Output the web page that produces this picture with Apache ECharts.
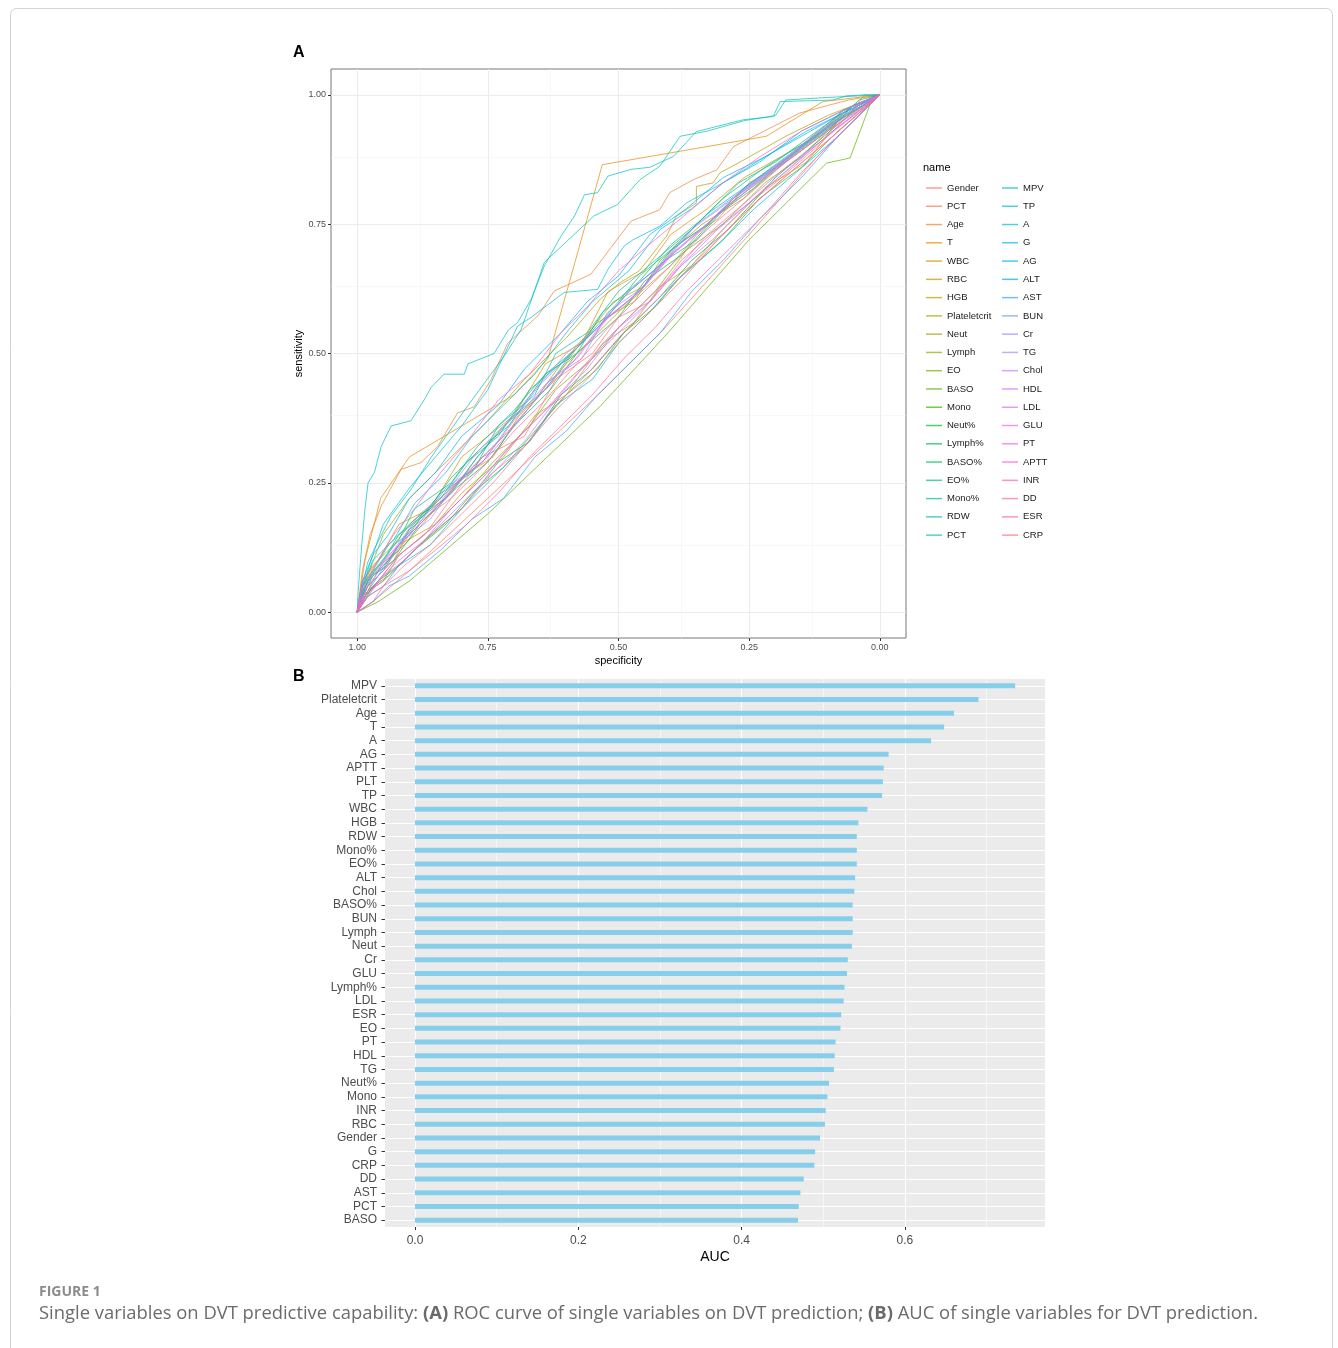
<!DOCTYPE html>
<html>
<head>
<meta charset="utf-8">
<script src="https://cdn.jsdelivr.net/npm/echarts@6/dist/echarts.min.js"></script>
<style>
  html, body { margin: 0; padding: 0; background: #ffffff; }
  #main { width: 1338px; height: 1348px; }
</style>
</head>
<body>
<div id="main"></div>
<script>
// ---------- panel A : ROC curves, [specificity, sensitivity] ----------
const rocGender = [[1,0],[0.995,0.03],[0.97,0.06],[0.93,0.1],[0.9,0.16],[0.82,0.22],[0.76,0.3],[0.68,0.34],[0.62,0.45],[0.55,0.5],[0.5,0.57],[0.44,0.6],[0.38,0.68],[0.29,0.76],[0.2,0.83],[0.12,0.9],[0.06,0.96],[0.03,1],[0,1]];
const rocPCT = [[1,0],[0.97,0.02],[0.9,0.08],[0.75,0.22],[0.535,0.424],[0.415,0.545],[0.25,0.73],[0.12,0.88],[0.05,0.95],[0,1]];
const rocAge = [[1,0],[0.99,0.08],[0.975,0.15],[0.954,0.205],[0.916,0.276],[0.878,0.289],[0.846,0.32],[0.808,0.385],[0.776,0.397],[0.744,0.449],[0.712,0.52],[0.654,0.573],[0.623,0.621],[0.553,0.653],[0.476,0.756],[0.421,0.778],[0.402,0.811],[0.357,0.836],[0.312,0.855],[0.28,0.9],[0.153,0.965],[0.06,0.99],[0,1]];
const rocT = [[1,0],[0.985,0.1],[0.955,0.22],[0.9,0.3],[0.8,0.36],[0.7,0.42],[0.635,0.49],[0.531,0.865],[0.217,0.92],[0.109,0.987],[0,1]];
const rocWBC = [[1,0],[0.99,0.05],[0.96,0.1],[0.92,0.17],[0.86,0.2],[0.8,0.3],[0.7,0.38],[0.64,0.48],[0.57,0.52],[0.52,0.62],[0.45,0.66],[0.4,0.73],[0.33,0.78],[0.26,0.84],[0.19,0.88],[0.12,0.92],[0.07,0.97],[0,1]];
const rocRBC = [[1,0],[0.98,0.05],[0.95,0.08],[0.92,0.13],[0.85,0.17],[0.8,0.23],[0.72,0.3],[0.66,0.38],[0.6,0.42],[0.53,0.52],[0.47,0.56],[0.42,0.63],[0.36,0.67],[0.3,0.74],[0.22,0.82],[0.14,0.87],[0.08,0.95],[0,1]];
const rocHGB = [[1,0],[0.99,0.04],[0.97,0.08],[0.92,0.12],[0.88,0.18],[0.8,0.26],[0.74,0.3],[0.69,0.38],[0.63,0.44],[0.58,0.51],[0.51,0.6],[0.45,0.63],[0.39,0.71],[0.31,0.76],[0.25,0.83],[0.18,0.87],[0.1,0.93],[0.04,0.98],[0,1]];
const rocPlateletcrit = [[1,0],[0.98,0.07],[0.95,0.15],[0.9,0.22],[0.82,0.3],[0.75,0.37],[0.68,0.45],[0.6,0.53],[0.535,0.605],[0.497,0.637],[0.46,0.66],[0.408,0.727],[0.389,0.766],[0.351,0.791],[0.351,0.823],[0.319,0.83],[0.306,0.849],[0.25,0.88],[0.18,0.92],[0.1,0.96],[0,1]];
const rocNeut = [[1,0],[0.98,0.04],[0.96,0.08],[0.9,0.14],[0.85,0.2],[0.79,0.27],[0.71,0.35],[0.65,0.42],[0.6,0.48],[0.55,0.53],[0.49,0.59],[0.4,0.67],[0.35,0.73],[0.3,0.78],[0.22,0.84],[0.15,0.9],[0.08,0.95],[0,1]];
const rocLymph = [[1,0],[0.99,0.06],[0.97,0.09],[0.93,0.13],[0.89,0.18],[0.83,0.22],[0.77,0.3],[0.72,0.36],[0.66,0.41],[0.61,0.48],[0.54,0.56],[0.47,0.6],[0.42,0.68],[0.34,0.75],[0.26,0.8],[0.2,0.86],[0.1,0.94],[0.05,0.98],[0,1]];
const rocEO = [[1,0],[0.98,0.04],[0.95,0.06],[0.92,0.11],[0.86,0.16],[0.8,0.22],[0.74,0.29],[0.67,0.36],[0.62,0.43],[0.55,0.49],[0.5,0.55],[0.43,0.62],[0.37,0.7],[0.3,0.75],[0.22,0.83],[0.15,0.88],[0.08,0.95],[0,1]];
const rocBASO = [[1,0],[0.96,0.02],[0.9,0.06],[0.75,0.19],[0.535,0.398],[0.401,0.545],[0.25,0.72],[0.102,0.868],[0.057,0.878],[0.013,0.997],[0,1]];
const rocMono = [[1,0],[0.97,0.05],[0.94,0.07],[0.89,0.12],[0.83,0.17],[0.78,0.23],[0.72,0.28],[0.66,0.35],[0.6,0.42],[0.54,0.47],[0.49,0.54],[0.43,0.59],[0.38,0.65],[0.3,0.72],[0.23,0.8],[0.15,0.86],[0.08,0.93],[0,1]];
const rocNeutPct = [[1,0],[0.985,0.03],[0.96,0.06],[0.92,0.09],[0.88,0.13],[0.8,0.2],[0.73,0.29],[0.67,0.33],[0.61,0.42],[0.55,0.47],[0.49,0.54],[0.42,0.61],[0.36,0.68],[0.29,0.74],[0.2,0.84],[0.13,0.9],[0.06,0.96],[0,1]];
const rocLymphPct = [[1,0],[0.99,0.04],[0.97,0.07],[0.93,0.1],[0.88,0.17],[0.81,0.24],[0.75,0.29],[0.7,0.36],[0.63,0.43],[0.58,0.5],[0.5,0.57],[0.45,0.64],[0.38,0.69],[0.31,0.77],[0.24,0.82],[0.17,0.88],[0.09,0.94],[0.04,0.99],[0,1]];
const rocBASOPct = [[1,0],[0.98,0.06],[0.95,0.1],[0.92,0.15],[0.87,0.19],[0.82,0.26],[0.76,0.32],[0.71,0.36],[0.64,0.46],[0.58,0.5],[0.53,0.58],[0.46,0.64],[0.4,0.71],[0.34,0.76],[0.27,0.83],[0.2,0.87],[0.12,0.93],[0.05,0.98],[0,1]];
const rocEOPct = [[1,0],[0.99,0.05],[0.97,0.08],[0.94,0.13],[0.9,0.17],[0.84,0.22],[0.79,0.29],[0.73,0.34],[0.67,0.43],[0.6,0.49],[0.54,0.55],[0.48,0.62],[0.41,0.68],[0.35,0.72],[0.28,0.8],[0.2,0.86],[0.12,0.92],[0.05,0.98],[0,1]];
const rocMonoPct = [[1,0],[0.98,0.06],[0.96,0.09],[0.92,0.14],[0.89,0.2],[0.82,0.25],[0.77,0.32],[0.7,0.39],[0.64,0.46],[0.58,0.51],[0.5,0.6],[0.46,0.65],[0.4,0.7],[0.33,0.77],[0.26,0.82],[0.18,0.88],[0.1,0.94],[0.04,0.98],[0,1]];
const rocRDW = [[1,0],[0.99,0.03],[0.97,0.07],[0.94,0.1],[0.9,0.16],[0.84,0.23],[0.78,0.27],[0.73,0.36],[0.66,0.42],[0.62,0.5],[0.56,0.54],[0.5,0.62],[0.43,0.68],[0.36,0.74],[0.3,0.8],[0.22,0.86],[0.14,0.91],[0.07,0.97],[0,1]];
const rocPCT2 = [[1,0],[0.98,0.096],[0.935,0.186],[0.897,0.237],[0.858,0.3],[0.794,0.391],[0.718,0.496],[0.686,0.547],[0.642,0.676],[0.547,0.766],[0.502,0.788],[0.476,0.817],[0.459,0.836],[0.421,0.862],[0.382,0.92],[0.33,0.93],[0.26,0.95],[0.2,0.96],[0.18,0.99],[0.1,0.995],[0,1]];
const rocMPV = [[1,0],[0.998,0.04],[0.992,0.12],[0.985,0.2],[0.979,0.25],[0.967,0.27],[0.954,0.32],[0.935,0.36],[0.897,0.37],[0.872,0.41],[0.858,0.435],[0.834,0.46],[0.795,0.46],[0.788,0.48],[0.738,0.5],[0.711,0.545],[0.693,0.56],[0.667,0.605],[0.642,0.669],[0.61,0.727],[0.584,0.766],[0.565,0.807],[0.54,0.811],[0.52,0.843],[0.476,0.856],[0.44,0.86],[0.395,0.881],[0.351,0.929],[0.261,0.952],[0.204,0.958],[0.191,0.987],[0.09,0.99],[0.064,0.998],[0.03,1],[0,1]];
const rocTP = [[1,0],[0.99,0.05],[0.97,0.1],[0.93,0.14],[0.89,0.21],[0.83,0.27],[0.78,0.34],[0.72,0.4],[0.66,0.46],[0.6,0.54],[0.55,0.6],[0.48,0.66],[0.42,0.74],[0.36,0.78],[0.3,0.83],[0.22,0.88],[0.15,0.92],[0.08,0.96],[0,1]];
const rocA = [[1,0],[0.98,0.08],[0.95,0.17],[0.9,0.24],[0.85,0.3],[0.8,0.36],[0.75,0.43],[0.693,0.553],[0.667,0.57],[0.604,0.618],[0.54,0.624],[0.52,0.663],[0.489,0.708],[0.472,0.72],[0.421,0.746],[0.37,0.791],[0.3,0.83],[0.23,0.87],[0.15,0.93],[0.07,0.97],[0,1]];
const rocG = [[1,0],[0.98,0.03],[0.95,0.05],[0.92,0.09],[0.86,0.13],[0.8,0.2],[0.74,0.26],[0.67,0.33],[0.62,0.4],[0.55,0.45],[0.5,0.52],[0.44,0.58],[0.39,0.64],[0.31,0.71],[0.24,0.78],[0.16,0.85],[0.08,0.92],[0,1]];
const rocAG = [[1,0],[0.99,0.06],[0.97,0.11],[0.94,0.15],[0.9,0.22],[0.85,0.27],[0.8,0.34],[0.73,0.4],[0.68,0.47],[0.61,0.54],[0.56,0.6],[0.5,0.65],[0.44,0.73],[0.37,0.78],[0.3,0.84],[0.22,0.88],[0.14,0.93],[0.06,0.97],[0,1]];
const rocALT = [[1,0],[0.98,0.04],[0.96,0.07],[0.92,0.13],[0.88,0.18],[0.82,0.23],[0.77,0.3],[0.7,0.38],[0.64,0.43],[0.59,0.5],[0.52,0.57],[0.46,0.62],[0.4,0.7],[0.33,0.75],[0.26,0.82],[0.19,0.87],[0.11,0.93],[0.05,0.97],[0,1]];
const rocAST = [[1,0],[0.97,0.02],[0.94,0.05],[0.9,0.07],[0.84,0.12],[0.78,0.18],[0.72,0.22],[0.66,0.3],[0.6,0.35],[0.54,0.42],[0.48,0.48],[0.42,0.54],[0.36,0.62],[0.3,0.68],[0.23,0.76],[0.15,0.84],[0.08,0.92],[0,1]];
const rocBUN = [[1,0],[0.99,0.05],[0.96,0.08],[0.93,0.13],[0.89,0.16],[0.83,0.24],[0.76,0.29],[0.71,0.36],[0.65,0.44],[0.6,0.49],[0.53,0.56],[0.48,0.62],[0.41,0.68],[0.35,0.75],[0.27,0.81],[0.2,0.86],[0.12,0.92],[0.05,0.97],[0,1]];
const rocCr = [[1,0],[0.98,0.05],[0.95,0.08],[0.91,0.14],[0.86,0.18],[0.81,0.25],[0.75,0.3],[0.69,0.37],[0.63,0.45],[0.57,0.49],[0.52,0.58],[0.45,0.63],[0.39,0.7],[0.32,0.76],[0.25,0.82],[0.17,0.88],[0.1,0.94],[0,1]];
const rocTG = [[1,0],[0.98,0.03],[0.95,0.07],[0.91,0.1],[0.86,0.15],[0.8,0.21],[0.73,0.28],[0.68,0.33],[0.62,0.41],[0.56,0.47],[0.5,0.55],[0.44,0.6],[0.38,0.67],[0.31,0.74],[0.24,0.8],[0.16,0.87],[0.09,0.93],[0,1]];
const rocChol = [[1,0],[0.99,0.05],[0.96,0.09],[0.93,0.12],[0.88,0.19],[0.83,0.23],[0.77,0.31],[0.71,0.37],[0.66,0.43],[0.6,0.5],[0.54,0.55],[0.48,0.62],[0.42,0.67],[0.36,0.74],[0.28,0.8],[0.21,0.85],[0.13,0.92],[0.05,0.98],[0,1]];
const rocHDL = [[1,0],[0.98,0.04],[0.96,0.06],[0.92,0.11],[0.86,0.16],[0.8,0.22],[0.75,0.27],[0.69,0.34],[0.62,0.41],[0.57,0.47],[0.5,0.54],[0.45,0.59],[0.38,0.67],[0.32,0.72],[0.24,0.8],[0.17,0.86],[0.09,0.93],[0,1]];
const rocLDL = [[1,0],[0.99,0.04],[0.97,0.07],[0.93,0.12],[0.88,0.17],[0.83,0.22],[0.77,0.29],[0.71,0.35],[0.65,0.42],[0.59,0.48],[0.53,0.56],[0.47,0.61],[0.41,0.68],[0.34,0.74],[0.27,0.81],[0.19,0.87],[0.11,0.93],[0.04,0.98],[0,1]];
const rocGLU = [[1,0],[0.98,0.05],[0.95,0.09],[0.92,0.13],[0.87,0.18],[0.81,0.25],[0.76,0.29],[0.7,0.37],[0.64,0.44],[0.58,0.49],[0.52,0.57],[0.46,0.62],[0.4,0.69],[0.33,0.75],[0.26,0.81],[0.18,0.87],[0.1,0.93],[0,1]];
const rocPT = [[1,0],[0.98,0.03],[0.96,0.06],[0.92,0.1],[0.87,0.14],[0.82,0.2],[0.76,0.26],[0.7,0.33],[0.64,0.39],[0.58,0.46],[0.52,0.53],[0.46,0.59],[0.4,0.65],[0.33,0.73],[0.26,0.79],[0.18,0.86],[0.1,0.92],[0,1]];
const rocAPTT = [[1,0],[0.99,0.06],[0.96,0.1],[0.93,0.15],[0.89,0.2],[0.84,0.27],[0.79,0.33],[0.73,0.41],[0.67,0.46],[0.61,0.54],[0.56,0.59],[0.5,0.66],[0.43,0.72],[0.37,0.77],[0.3,0.83],[0.23,0.88],[0.15,0.93],[0.07,0.97],[0,1]];
const rocINR = [[1,0],[0.98,0.04],[0.95,0.06],[0.91,0.1],[0.86,0.15],[0.8,0.2],[0.74,0.27],[0.68,0.32],[0.62,0.4],[0.56,0.46],[0.5,0.53],[0.44,0.59],[0.38,0.65],[0.31,0.72],[0.24,0.79],[0.16,0.86],[0.09,0.92],[0,1]];
const rocDD = [[1,0],[0.97,0.02],[0.95,0.05],[0.9,0.08],[0.85,0.12],[0.79,0.17],[0.73,0.23],[0.67,0.3],[0.61,0.36],[0.55,0.42],[0.49,0.49],[0.43,0.55],[0.37,0.62],[0.3,0.69],[0.22,0.77],[0.15,0.85],[0.08,0.92],[0,1]];
const rocESR = [[1,0],[0.99,0.03],[0.96,0.06],[0.92,0.11],[0.87,0.15],[0.82,0.22],[0.76,0.28],[0.7,0.35],[0.64,0.41],[0.58,0.48],[0.52,0.55],[0.46,0.61],[0.4,0.67],[0.33,0.74],[0.26,0.8],[0.18,0.87],[0.1,0.93],[0.04,0.97],[0,1]];
const rocCRP = [[1,0],[0.98,0.03],[0.95,0.05],[0.91,0.09],[0.86,0.13],[0.8,0.19],[0.74,0.25],[0.68,0.32],[0.62,0.39],[0.56,0.45],[0.5,0.52],[0.44,0.58],[0.38,0.64],[0.31,0.72],[0.24,0.79],[0.16,0.86],[0.09,0.92],[0,1]];

// legend order (the legend really lists PCT twice)
const rocNames = ['Gender', 'PCT', 'Age', 'T', 'WBC', 'RBC', 'HGB', 'Plateletcrit', 'Neut', 'Lymph',
    'EO', 'BASO', 'Mono', 'Neut%', 'Lymph%', 'BASO%', 'EO%', 'Mono%', 'RDW', 'PCT',
    'MPV', 'TP', 'A', 'G', 'AG', 'ALT', 'AST', 'BUN', 'Cr', 'TG',
    'Chol', 'HDL', 'LDL', 'GLU', 'PT', 'APTT', 'INR', 'DD', 'ESR', 'CRP'];
const rocData = [rocGender, rocPCT, rocAge, rocT, rocWBC, rocRBC, rocHGB, rocPlateletcrit, rocNeut, rocLymph,
    rocEO, rocBASO, rocMono, rocNeutPct, rocLymphPct, rocBASOPct, rocEOPct, rocMonoPct, rocRDW, rocPCT2,
    rocMPV, rocTP, rocA, rocG, rocAG, rocALT, rocAST, rocBUN, rocCr, rocTG,
    rocChol, rocHDL, rocLDL, rocGLU, rocPT, rocAPTT, rocINR, rocDD, rocESR, rocCRP];

const specTicks = [1, 0.75, 0.5, 0.25, 0];
const sensTicks = [0, 0.25, 0.5, 0.75, 1];
const rocMinor = [0.125, 0.375, 0.625, 0.875];

// ---------- panel B : AUC ----------
const aucCats = ['MPV', 'Plateletcrit', 'Age', 'T', 'A', 'AG', 'APTT', 'PLT', 'TP', 'WBC',
    'HGB', 'RDW', 'Mono%', 'EO%', 'ALT', 'Chol', 'BASO%', 'BUN', 'Lymph', 'Neut',
    'Cr', 'GLU', 'Lymph%', 'LDL', 'ESR', 'EO', 'PT', 'HDL', 'TG', 'Neut%',
    'Mono', 'INR', 'RBC', 'Gender', 'G', 'CRP', 'DD', 'AST', 'PCT', 'BASO'];
const aucVals = [0.735, 0.690, 0.660, 0.648, 0.632, 0.580, 0.574, 0.573, 0.572, 0.554,
    0.543, 0.541, 0.541, 0.541, 0.539, 0.538, 0.536, 0.536, 0.536, 0.535,
    0.530, 0.529, 0.526, 0.525, 0.522, 0.521, 0.515, 0.514, 0.513, 0.507,
    0.505, 0.503, 0.502, 0.496, 0.490, 0.489, 0.476, 0.472, 0.470, 0.469];
const aucTicks = [0, 0.2, 0.4, 0.6];
const aucMinor = [0.1, 0.3, 0.5, 0.7];

// ggplot hue palette -> hex
function hcl2hex(h, c, l) {
    let hr = h * Math.PI / 180;
    let U = c * Math.cos(hr), V = c * Math.sin(hr);
    let Xn = 95.047, Yn = 100.0, Zn = 108.883;
    let den = Xn + 15 * Yn + 3 * Zn;
    let un = 4 * Xn / den, vn = 9 * Yn / den;
    let Y = Yn * (l > 8 ? Math.pow((l + 16) / 116, 3) : l / 903.3);
    let u = U / (13 * l) + un, v = V / (13 * l) + vn;
    let X = 9 * Y * u / (4 * v);
    let Z = Y * (12 - 3 * u - 20 * v) / (4 * v);
    X /= 100; Y /= 100; Z /= 100;
    let rgb = [
        3.240479 * X - 1.537150 * Y - 0.498535 * Z,
        -0.969256 * X + 1.875992 * Y + 0.041556 * Z,
        0.055648 * X - 0.204043 * Y + 1.057311 * Z
    ];
    let out = '#';
    for (let i = 0; i < 3; i++) {
        let t = rgb[i];
        t = t <= 0.0031308 ? 12.92 * t : 1.055 * Math.pow(t, 1 / 2.4) - 0.055;
        t = Math.max(0, Math.min(1, t));
        out += ('0' + Math.round(t * 255).toString(16)).slice(-2);
    }
    return out;
}

let seriesName = function (i) {
    // second PCT needs its own key for the legend
    return (i === 19) ? 'PCT (2)' : rocNames[i];
};

let series = [];
for (let i = 0; i < rocData.length; i++) {
    let s = {
        name: seriesName(i),
        type: 'line',
        xAxisIndex: 0,
        yAxisIndex: 0,
        data: rocData[i],
        showSymbol: false,
        symbol: 'none',
        color: hcl2hex(15 + i * 9, 100, 65),
        lineStyle: { width: 1, opacity: 0.7 },
        z: 2,
        silent: true
    };
    if (i === 0) {
        let ml = [];
        sensTicks.forEach(function (v) { ml.push({ yAxis: v, lineStyle: { color: '#EBEBEB', width: 1 } }); });
        specTicks.forEach(function (v) { ml.push({ xAxis: v, lineStyle: { color: '#EBEBEB', width: 1 } }); });
        rocMinor.forEach(function (v) {
            ml.push({ yAxis: v, lineStyle: { color: '#F4F4F4', width: 0.6 } });
            ml.push({ xAxis: v, lineStyle: { color: '#F4F4F4', width: 0.6 } });
        });
        s.markLine = { z: 1, silent: true, symbol: ['none', 'none'], label: { show: false }, lineStyle: { type: 'solid' }, data: ml };
    }
    series.push(s);
}

let bml = [];
aucCats.forEach(function (c) { bml.push({ yAxis: c, lineStyle: { color: '#ffffff', width: 1.1 } }); });
aucTicks.forEach(function (v) { bml.push({ xAxis: v, lineStyle: { color: '#ffffff', width: 1.1 } }); });
aucMinor.forEach(function (v) { bml.push({ xAxis: v, lineStyle: { color: '#ffffff', width: 0.55 } }); });

series.push({
    name: 'AUC',
    type: 'bar',
    xAxisIndex: 1,
    yAxisIndex: 1,
    data: aucVals,
    barWidth: 5,
    itemStyle: { color: '#87CEEB' },
    z: 2,
    silent: true,
    markLine: { z: 1, silent: true, symbol: ['none', 'none'], label: { show: false }, lineStyle: { type: 'solid' }, data: bml }
});

let fontFam = '"Liberation Sans", Arial, sans-serif';
let legendText = { fontSize: 9.5, color: '#1a1a1a', lineHeight: 12, fontFamily: fontFam };
// axis line itself is not drawn, but keep it off the zero so the ticks sit on the panel edge
let hiddenLine = function () {
    return { show: true, onZero: false, lineStyle: { color: 'rgba(0,0,0,0)', width: 1 } };
};
let tickStyle = { color: '#333333', width: 1, opacity: 1 };

let myChart = echarts.init(document.getElementById('main'), null, { renderer: 'canvas' });
let option = {
    animation: false,
    backgroundColor: '#ffffff',
    textStyle: { fontFamily: fontFam },
    title: [
        { text: 'A', left: 293, top: 45, padding: 0, textStyle: { fontSize: 16, fontWeight: 'bold', color: '#000' } },
        { text: 'B', left: 293, top: 669, padding: 0, textStyle: { fontSize: 16, fontWeight: 'bold', color: '#000' } },
        { text: 'name', left: 923, top: 162, padding: 0, textStyle: { fontSize: 11, fontWeight: 'normal', color: '#000' } },
        {
            text: 'FIGURE 1', left: 39, top: 1285, padding: 0,
            textStyle: { fontSize: 14, fontWeight: 'bold', color: '#8c8c8c', fontFamily: '"Open Sans", sans-serif' }
        },
        {
            text: 'Single variables on DVT predictive capability: {b|(A)} ROC curve of single variables on DVT prediction; {b|(B)} AUC of single variables for DVT prediction.',
            left: 39, top: 1305, padding: 0,
            textStyle: {
                fontSize: 18.4, fontWeight: 'normal', color: '#6b6b6b', fontFamily: '"Open Sans", sans-serif',
                rich: { b: { fontSize: 18.4, fontWeight: 'bold', color: '#6b6b6b', fontFamily: '"Open Sans", sans-serif' } }
            }
        }
    ],
    legend: [
        {
            data: [0, 1, 2, 3, 4, 5, 6, 7, 8, 9, 10, 11, 12, 13, 14, 15, 16, 17, 18, 19].map(seriesName),
            orient: 'vertical', left: 926, top: 182, padding: 0, itemWidth: 16, itemHeight: 1.5, itemGap: 6.27,
            icon: 'rect', itemStyle: { opacity: 0.7 }, textStyle: legendText, selectedMode: false,
            formatter: function (n) { return n.replace(' (2)', ''); }
        },
        {
            data: [20, 21, 22, 23, 24, 25, 26, 27, 28, 29, 30, 31, 32, 33, 34, 35, 36, 37, 38, 39].map(seriesName),
            orient: 'vertical', left: 1002, top: 182, padding: 0, itemWidth: 16, itemHeight: 1.5, itemGap: 6.27,
            icon: 'rect', itemStyle: { opacity: 0.7 }, textStyle: legendText, selectedMode: false
        }
    ],
    grid: [
        { left: 331, top: 69, width: 575, height: 569, show: true, borderColor: '#777', borderWidth: 1, backgroundColor: '#fff', outerBoundsMode: 'none' },
        { left: 385, top: 679, width: 660, height: 548, show: true, borderWidth: 0, backgroundColor: '#EBEBEB', outerBoundsMode: 'none' }
    ],
    xAxis: [
        {
            gridIndex: 0, type: 'value', inverse: true, min: -0.05, max: 1.05, position: 'bottom',
            name: 'specificity', nameLocation: 'middle', nameGap: 17,
            nameTextStyle: { fontSize: 11, color: '#000' },
            axisLine: hiddenLine(),
            axisTick: { show: true, length: 3, customValues: specTicks, lineStyle: tickStyle },
            axisLabel: { customValues: specTicks, fontSize: 9, color: '#4D4D4D', margin: 5, formatter: function (v) { return v.toFixed(2); } },
            splitLine: { show: false }
        },
        {
            gridIndex: 1, type: 'value', min: -0.0367, max: 0.7715, position: 'bottom',
            name: 'AUC', nameLocation: 'middle', nameGap: 23,
            nameTextStyle: { fontSize: 14, color: '#000' },
            axisLine: hiddenLine(),
            axisTick: { show: true, length: 3, customValues: aucTicks, lineStyle: tickStyle },
            axisLabel: { customValues: aucTicks, fontSize: 12, color: '#4D4D4D', margin: 8, formatter: function (v) { return v.toFixed(1); } },
            splitLine: { show: false }
        }
    ],
    yAxis: [
        {
            gridIndex: 0, type: 'value', min: -0.05, max: 1.05, position: 'left',
            name: 'sensitivity', nameLocation: 'middle', nameGap: 27, nameRotate: 90,
            nameTextStyle: { fontSize: 11, color: '#000' },
            axisLine: hiddenLine(),
            axisTick: { show: true, length: 3, customValues: sensTicks, lineStyle: tickStyle },
            axisLabel: { customValues: sensTicks, fontSize: 9, color: '#4D4D4D', margin: 5, formatter: function (v) { return v.toFixed(2); } },
            splitLine: { show: false }
        },
        {
            gridIndex: 1, type: 'category', inverse: true, data: aucCats, position: 'left',
            axisLine: hiddenLine(),
            axisTick: { show: true, length: 3.5, alignWithLabel: true, interval: 0, lineStyle: tickStyle },
            axisLabel: { fontSize: 12, color: '#4D4D4D', margin: 8, interval: 0 },
            splitLine: { show: false }
        }
    ],
    graphic: [
        {
            type: 'rect', silent: true, z: -1,
            shape: { x: 10.5, y: 8.5, width: 1322, height: 1350, r: 6 },
            style: { fill: 'none', stroke: '#d4d4d4', lineWidth: 1 }
        }
    ],
    series: series
};

myChart.setOption(option);
</script>
</body>
</html>
